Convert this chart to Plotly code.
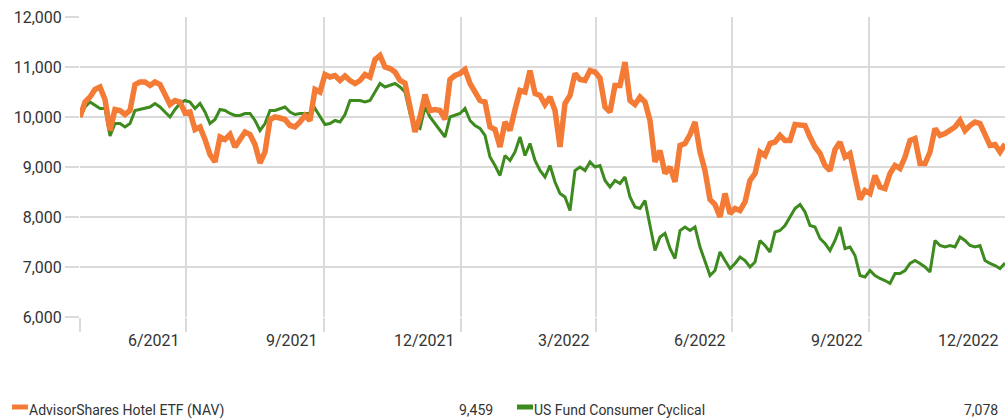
import pandas as pd
import plotly.graph_objects as go

start_date = "2021-04-20"
end_date = "2022-12-30"

series_names = ["AdvisorShares Hotel ETF (NAV)", "US Fund Consumer Cyclical"]
series_colors = ["#F47B36", "#3D8A1E"]

hotel_etf = [
    10000, 10300, 10400, 10550, 10600, 10350, 9730, 10150, 10130, 10050,
    10130, 10650, 10700, 10700, 10630, 10700, 10650, 10450, 10250, 10330,
    10300, 10080, 10100, 9750, 9800, 9550, 9250, 9100, 9600, 9550,
    9650, 9400, 9550, 9700, 9650, 9450, 9080, 9300, 9950, 10000,
    9980, 9950, 9830, 9800, 9900, 10030, 9930, 10550, 10500, 10850,
    10800, 10830, 10730, 10820, 10730, 10670, 10730, 10850, 10800, 11150,
    11230, 11000, 10970, 10900, 10730, 10680, 10200, 9700, 10000, 10450,
    10130, 10150, 10130, 9950, 10750, 10830, 10870, 10950, 10670, 10500,
    10330, 10300, 9800, 9750, 9400, 9900, 9730, 10150, 10530, 10500,
    10930, 10470, 10430, 10250, 10400, 10130, 9400, 10270, 10430, 10870,
    10750, 10730, 10930, 10900, 10780, 10200, 10100, 10630, 10630, 11100,
    10330, 10250, 10400, 10300, 9930, 9100, 9330, 8870, 9000, 8700,
    9430, 9470, 9650, 9900, 9300, 8930, 8350, 8250, 8000, 8470,
    8070, 8170, 8130, 8300, 8730, 8870, 9300, 9230, 9470, 9500,
    9630, 9530, 9530, 9850, 9830, 9830, 9600, 9400, 9270, 9030,
    8930, 9350, 9500, 9200, 9270, 8800, 8350, 8530, 8470, 8830,
    8600, 8570, 8870, 9030, 8970, 9200, 9530, 9570, 9070, 9070,
    9300, 9770, 9630, 9670, 9730, 9800, 9930, 9730, 9830, 9900,
    9870, 9630, 9430, 9450, 9300, 9459,
]

consumer_cyclical = [
    10000, 10200, 10300, 10230, 10170, 10170, 9620, 9870, 9870, 9800,
    9870, 10130, 10150, 10170, 10200, 10270, 10200, 10100, 10000, 10150,
    10270, 10330, 10300, 10170, 10270, 10100, 9870, 9950, 10150, 10130,
    10070, 10030, 10030, 10070, 10070, 9930, 9730, 9870, 10130, 10130,
    10170, 10200, 10100, 10050, 10070, 10070, 10070, 10170, 10000, 9850,
    9870, 9930, 9900, 10050, 10330, 10330, 10330, 10300, 10330, 10500,
    10670, 10600, 10630, 10670, 10600, 10500, 10070, 9830, 9770, 10200,
    10000, 9870, 9730, 9600, 10000, 10030, 10070, 10170, 9930, 9830,
    9770, 9630, 9200, 9030, 8830, 9230, 9130, 9300, 9600, 9230,
    9470, 9130, 8930, 8800, 9030, 8700, 8470, 8400, 8130, 8930,
    9000, 8930, 9100, 9000, 9030, 8730, 8600, 8730, 8670, 8800,
    8400, 8200, 8170, 8330, 7800, 7330, 7600, 7670, 7370, 7170,
    7730, 7800, 7730, 7800, 7400, 7130, 6830, 6930, 7300, 7130,
    6970, 7070, 7200, 7130, 7000, 7100, 7530, 7430, 7300, 7700,
    7730, 7830, 8000, 8170, 8250, 8100, 7830, 7800, 7570, 7470,
    7330, 7530, 7800, 7370, 7400, 7230, 6830, 6800, 6930, 6830,
    6770, 6730, 6670, 6870, 6870, 6930, 7070, 7130, 7070, 7000,
    6900, 7530, 7430, 7400, 7430, 7400, 7600, 7530, 7430, 7400,
    7430, 7130, 7070, 7030, 6970, 7078,
]

grid_dates = ["2021-04-20", "2021-06-30", "2021-09-30", "2021-12-31",
              "2022-03-31", "2022-06-30", "2022-09-30"]
tick_labels = ["6/2021", "9/2021", "12/2021", "3/2022", "6/2022", "9/2022", "12/2022"]
label_dates = ["2021-06-30", "2021-09-30", "2021-12-31", "2022-03-31",
               "2022-06-30", "2022-09-30", "2022-12-30"]
y_ticks = [6000, 7000, 8000, 9000, 10000, 11000, 12000]

FONT = "Roboto, Liberation Sans, sans-serif"
TEXT = "#333333"
GRID = "#DADADA"
AXIS_SIZE = 16
LEGEND_SIZE = 14

W, H = 1005, 420
L, R, T, B = 80, 0, 17, 103
PW, PH = W - L - R, H - T - B


def px(x):
    return (x - L) / PW


def py(y):
    return (H - B - y) / PH


fig = go.Figure()
for vals, name, color, width in [
    (consumer_cyclical, series_names[1], series_colors[1], 3),
    (hotel_etf, series_names[0], series_colors[0], 5.5),
]:
    dates = pd.date_range(start_date, end_date, periods=len(vals))
    fig.add_trace(go.Scatter(x=dates, y=vals, mode="lines", name=name,
                             line=dict(color=color, width=width),
                             showlegend=False))

fig.update_layout(
    width=W, height=H,
    margin=dict(l=L, r=R, t=T, b=B),
    paper_bgcolor="white", plot_bgcolor="white",
    font=dict(family=FONT, size=AXIS_SIZE, color=TEXT),
    xaxis=dict(type="date", range=[start_date, end_date],
               tickvals=grid_dates, showticklabels=False,
               showgrid=True, gridcolor=GRID, gridwidth=2,
               ticks="outside", ticklen=14, tickcolor=GRID, tickwidth=2,
               zeroline=False, showline=False),
    yaxis=dict(range=[6000, 12000], tickvals=y_ticks, tickformat=",d",
               showgrid=True, gridcolor=GRID, gridwidth=2,
               ticks="outside", ticklen=14, tickcolor=GRID, tickwidth=2,
               zeroline=False, showline=False,
               tickfont=dict(family=FONT, size=AXIS_SIZE, color=TEXT)),
)

annotations = []
for d, lab in zip(label_dates, tick_labels):
    annotations.append(dict(x=d, xref="x", y=0, yref="paper", text=lab,
                            showarrow=False, xanchor="right", yanchor="middle",
                            xshift=-4, yshift=-23,
                            font=dict(family=FONT, size=AXIS_SIZE, color=TEXT)))

legend_items = [
    (series_names[0], series_colors[0], hotel_etf[-1], 12, 495),
    (series_names[1], series_colors[1], consumer_cyclical[-1], 517, 1000),
]
shapes = []
for name, color, last, x0, x1 in legend_items:
    shapes.append(dict(type="rect", xref="paper", yref="paper",
                       x0=px(x0), x1=px(x0 + 16), y0=py(409.5), y1=py(404.5),
                       fillcolor=color, line=dict(width=0)))
    annotations.append(dict(x=px(x0 + 15), xref="paper", y=py(410), yref="paper",
                            text=name, showarrow=False, xanchor="left",
                            yanchor="middle",
                            font=dict(family=FONT, size=LEGEND_SIZE, color=TEXT)))
    annotations.append(dict(x=px(x1), xref="paper", y=py(410), yref="paper",
                            text=f"{last:,}", showarrow=False, xanchor="right",
                            yanchor="middle",
                            font=dict(family=FONT, size=LEGEND_SIZE, color=TEXT)))

fig.update_layout(annotations=annotations, shapes=shapes)
fig.write_html("out.html",
               config={"displayModeBar": False},
               post_script="document.body.style.margin='0';"
                           "document.body.style.padding='0';")
